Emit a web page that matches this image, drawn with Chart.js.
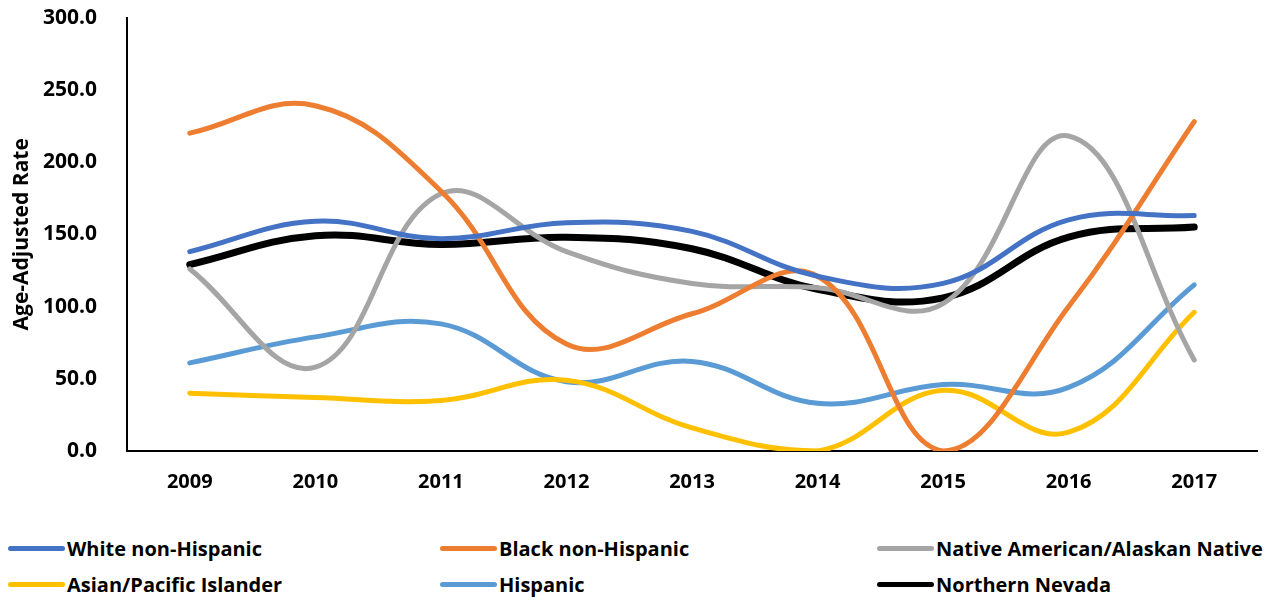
<!DOCTYPE html>
<html>
<head>
<meta charset="utf-8">
<script src="https://cdn.jsdelivr.net/npm/chart.js@4"></script>
<style>
  body { margin: 0; background: #fff; font-family: "Open Sans", sans-serif; overflow: hidden; }
  #wrap { position: relative; width: 1274px; height: 600px; overflow: hidden; }
  #box { position: absolute; left: 0; top: -17px; width: 1274px; height: 517px; }
  #legend { position: absolute; left: 0; top: 535px; width: 1274px; }
  .item { position: absolute; display: flex; align-items: center; font-weight: bold; font-size: 20px; color: #000; white-space: nowrap; }
  .swatch { width: 57px; height: 5px; border-radius: 3px; margin-right: 2px; }
</style>
</head>
<body>
<div id="wrap">
  <div id="box"><canvas id="rate-chart"></canvas></div>
  <div id="legend"></div>
</div>
<script>
// categories
var years = ['2009', '2010', '2011', '2012', '2013', '2014', '2015', '2016', '2017'];

// series values (age-adjusted rate)
var white    = [138, 159, 147, 158, 152, 121, 116, 160, 163];
var black    = [220, 239, 180, 74, 95, 121, 0, 100, 228];
var native   = [126, 58, 178, 138, 116, 113, 102, 218, 63];
var asian    = [40, 37, 35, 49, 16, 0, 42, 13, 96];
var hispanic = [61, 79, 88, 48, 62, 33, 46, 44, 115];
var nevada   = [129, 149, 143, 148, 140, 112, 106, 148, 155];

// y ticks
var yTicks = [0, 50, 100, 150, 200, 250, 300];

var series = [
  { label: 'White non-Hispanic', data: white, color: '#4472C4', width: 5 },
  { label: 'Black non-Hispanic', data: black, color: '#ED7D31', width: 5 },
  { label: 'Native American/Alaskan Native', data: native, color: '#A5A5A5', width: 5 },
  { label: 'Asian/Pacific Islander', data: asian, color: '#FFC000', width: 5 },
  { label: 'Hispanic', data: hispanic, color: '#5B9BD5', width: 5 },
  { label: 'Northern Nevada', data: nevada, color: '#000000', width: 7 }
];

var ctx = document.getElementById('rate-chart').getContext('2d');
var chart = new Chart(ctx, {
  type: 'line',
  data: {
    labels: years,
    datasets: series.map(function (s) {
      return {
        label: s.label,
        data: s.data,
        borderColor: s.color,
        backgroundColor: s.color,
        borderWidth: s.width,
        borderCapStyle: 'round',
        pointRadius: 0,
        tension: 0.4,
        fill: false
      };
    })
  },
  options: {
    responsive: true,
    maintainAspectRatio: false,
    animation: false,
    layout: { padding: { top: 0, right: 17, left: 0, bottom: 0 } },
    plugins: { legend: { display: false }, tooltip: { enabled: false } },
    scales: {
      x: {
        offset: true,
        grid: { display: false },
        border: { display: true, color: '#000', width: 2 },
        ticks: { color: '#000', padding: 11, font: { family: 'Open Sans', weight: 'bold', size: 20 } },
        afterFit: function (scale) { scale.height = 49; }
      },
      y: {
        min: 0,
        max: 300,
        afterBuildTicks: function (scale) {
          scale.ticks = yTicks.map(function (v) { return { value: v }; });
        },
        grid: { display: false },
        border: { display: true, color: '#000', width: 2 },
        ticks: {
          color: '#000',
          padding: 22,
          font: { family: 'Open Sans', weight: 'bold', size: 21 },
          callback: function (v) { return Number(v).toFixed(1); }
        },
        title: {
          display: true,
          text: 'Age-Adjusted Rate',
          color: '#000',
          padding: { top: 9, bottom: 0 },
          font: { family: 'Open Sans', weight: 'bold', size: 21 }
        },
        afterFit: function (scale) { scale.width = 127; }
      }
    }
  }
});

// legend in three columns, like the original
var cols = [8, 440, 877];
var rows = [0, 36];
var legend = document.getElementById('legend');
series.forEach(function (s, i) {
  var el = document.createElement('div');
  el.className = 'item';
  el.style.left = cols[i % 3] + 'px';
  el.style.top = rows[Math.floor(i / 3)] + 'px';
  var sw = document.createElement('span');
  sw.className = 'swatch';
  sw.style.background = s.color;
  var tx = document.createElement('span');
  tx.textContent = s.label;
  el.appendChild(sw);
  el.appendChild(tx);
  legend.appendChild(el);
});
</script>
</body>
</html>
